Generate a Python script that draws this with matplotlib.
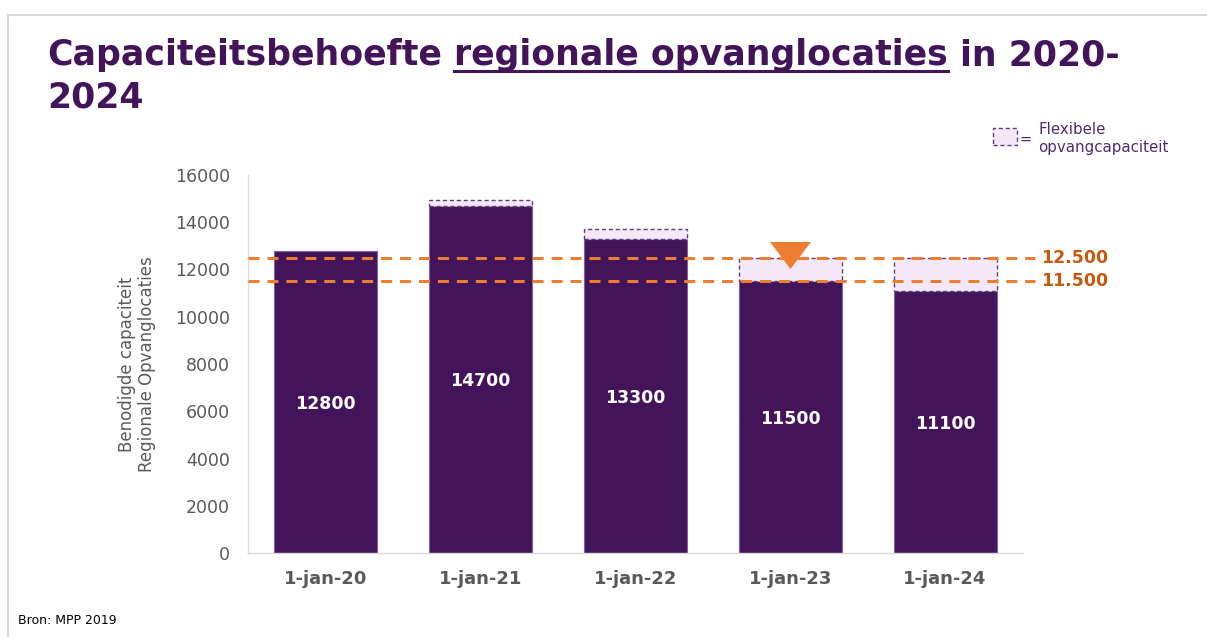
import matplotlib
matplotlib.use('Agg')
import matplotlib.pyplot as plt
from matplotlib.path import Path
from matplotlib.patches import Rectangle
from matplotlib.lines import Line2D

# ---- data ----
categories = ['1-jan-20', '1-jan-21', '1-jan-22', '1-jan-23', '1-jan-24']
need = [12800, 14700, 13300, 11500, 11100]
flex_top = [12800, 14950, 13700, 12500, 12500]
ref_levels = [12500, 11500]
ref_labels = ['12.500', '11.500']
yticks = [0, 2000, 4000, 6000, 8000, 10000, 12000, 14000, 16000]
marker_cat = 3
marker_y = 12600

PURPLE = '#43145A'
FLEX_FILL = '#F4E8F8'
FLEX_EDGE = '#5E3C80'
ORANGE = '#ED7D31'
ORANGE_TXT = '#C55A11'
GREY = '#595959'

W, H = 1207, 637
fig = plt.figure(figsize=(W / 100, H / 100), dpi=100)
fig.patch.set_facecolor('white')

ax = fig.add_axes([248 / W, 1 - 553 / H, 774.5 / W, 378 / H])
x = list(range(len(categories)))
ax.bar(x, need, width=0.665, color=PURPLE, edgecolor='#7E62A0', linewidth=0.8, zorder=2)

fx = [i for i in x if flex_top[i] > need[i]]
ax.bar(fx, [flex_top[i] - need[i] for i in fx], bottom=[need[i] for i in fx],
       width=0.665, color=FLEX_FILL, edgecolor=FLEX_EDGE, linewidth=1.0,
       linestyle=(0, (3, 2)), zorder=3)

for i, v in enumerate(need):
    ax.text(i, v / 2, str(v), ha='center', va='center_baseline', color='white',
            fontsize=12.5, fontweight='bold', zorder=6)

for lvl, lab in zip(ref_levels, ref_labels):
    ax.hlines(lvl, -0.5, 4.58, colors=ORANGE, linewidth=2.2,
              linestyles=(0, (3.6, 2.6)), clip_on=False, zorder=4)
    ax.text(1.024, lvl, lab, transform=ax.get_yaxis_transform(), ha='left', va='center',
            color=ORANGE_TXT, fontsize=12.5, fontweight='bold')

tri = Path([(-1, 0.66), (1, 0.66), (0, -0.66), (-1, 0.66)],
           [Path.MOVETO, Path.LINETO, Path.LINETO, Path.CLOSEPOLY])
ax.plot([marker_cat], [marker_y], marker=tri, ms=29.5, color=ORANGE,
        markeredgewidth=0, linestyle='none', zorder=5)

ax.set_xlim(-0.5, 4.5)
ax.set_ylim(0, 16000)
ax.set_yticks(yticks)
ax.set_yticklabels([str(t) for t in yticks])
ax.set_xticks(x)
ax.set_xticklabels(categories)
ax.tick_params(axis='y', length=0, pad=13, labelsize=12.5, labelcolor=GREY)
ax.tick_params(axis='x', length=0, pad=12, labelsize=13, labelcolor=GREY)
for lbl in ax.get_xticklabels():
    lbl.set_fontweight('bold')
for s in ['top', 'right']:
    ax.spines[s].set_visible(False)
for s in ['left', 'bottom']:
    ax.spines[s].set_color('#D9D9D9')
    ax.spines[s].set_linewidth(1.0)

fig.text(137 / W, 1 - 364 / H, 'Benodigde capaciteit\nRegionale Opvanglocaties',
         rotation=90, ha='center', va='center', multialignment='center',
         color=GREY, fontsize=12)

# frame
fig.add_artist(Line2D([8 / W, 8 / W], [0, 1 - 15 / H], color='#D9D9D9', lw=1.5))
fig.add_artist(Line2D([8 / W, 1], [1 - 15 / H, 1 - 15 / H], color='#D9D9D9', lw=1.5))

# legend
fig.add_artist(Rectangle((993 / W, 1 - 145 / H), 24 / W, 17 / H, transform=fig.transFigure,
                         facecolor=FLEX_FILL, edgecolor=FLEX_EDGE, lw=1.0,
                         linestyle=(0, (3, 2))))
fig.text(1026 / W, 1 - 139 / H, '=', ha='center', va='center', color='#4E2A72', fontsize=10.5)
fig.text(1038 / W, 1 - 122 / H, 'Flexibele\nopvangcapaciteit', ha='left', va='top',
         color='#4E2A72', fontsize=10.8, linespacing=1.25)

fig.text(18 / W, 1 - 620 / H, 'Bron: MPP 2019', fontsize=9, va='center', color='black')

# title with underlined part
fig.canvas.draw()
r = fig.canvas.get_renderer()
TS = 25
tkw = dict(fontsize=TS, fontweight='bold', color=PURPLE, va='baseline', ha='left')
probe1 = fig.text(0, 0, 'x x', **tkw)
probe2 = fig.text(0, 0, 'xx', **tkw)
sp = probe1.get_window_extent(r).width - probe2.get_window_extent(r).width
probe1.remove(); probe2.remove()

yb1 = 65
xpix = 47
t1 = fig.text(xpix / W, 1 - yb1 / H, 'Capaciteitsbehoefte', **tkw)
xpix = t1.get_window_extent(r).x1 + sp
t2 = fig.text(xpix / W, 1 - yb1 / H, 'regionale opvanglocaties', **tkw)
bb2 = t2.get_window_extent(r)
uy = 1 - (yb1 + 6) / H
fig.add_artist(Line2D([bb2.x0 / W, bb2.x1 / W], [uy, uy], color=PURPLE, lw=2.2))
xpix = bb2.x1 + sp
fig.text(xpix / W, 1 - yb1 / H, 'in 2020-', **tkw)
fig.text(47 / W, 1 - 108 / H, '2024', **tkw)

fig.savefig('out.png', dpi=100, facecolor='white')
